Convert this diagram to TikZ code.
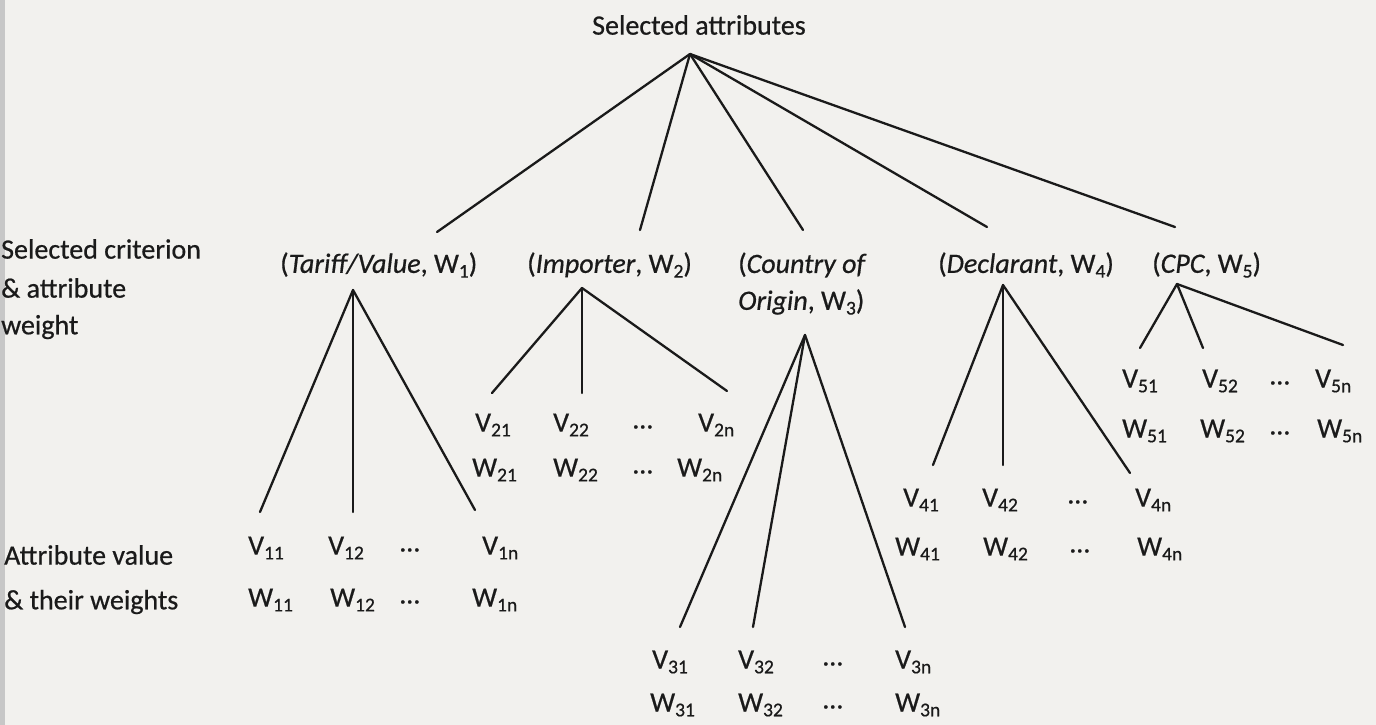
\documentclass[tikz,border=0pt]{standalone}
\usepackage{fontspec}
\setmainfont{Carlito}[FakeBold=0.6]
\definecolor{bg}{HTML}{F2F1EE}
\definecolor{ink}{HTML}{1A1A1A}
\newcommand\mysub[1]{\raisebox{-0.17em}{\fontsize{19.5}{19.5}\selectfont #1}}
\tikzset{
  lbl/.style={inner sep=0pt, anchor=west, text=ink},
  ln/.style={draw=ink, line width=2.3pt, line cap=round}
}
\begin{document}
\begin{tikzpicture}[x=1pt,y=-1pt,font=\fontsize{28}{39}\selectfont]
\path[use as bounding box, fill=bg] (0,0) rectangle (1376,725);
\clip (0,0) rectangle (1376,725);
\fill[black!22] (0,0) rectangle (5,725);

% titles and labels
\node[lbl] (title) at (592,25) {Selected attributes};
\node[lbl] (lc1) at (1,249) {Selected criterion};
\node[lbl] (lc2) at (1,288) {\& attribute};
\node[lbl] (lc3) at (1,327) {weight};
\node[lbl] (la1) at (4,555) {Attribute value};
\node[lbl] (la2) at (4,602) {\& their weights};

% criteria
\node[lbl] (c1) at (280,265) {(\textit{Tariff/Value}, W\mysub{1})};
\node[lbl] (c2) at (527,265) {(\textit{Importer}, W\mysub{2})};
\node[lbl] (c3a) at (738,265) {(\textit{Country of}};
\node[lbl] (c3b) at (738,302) {\textit{Origin}, W\mysub{3})};
\node[lbl] (c4) at (938,265) {(\textit{Declarant}, W\mysub{4})};
\node[lbl] (c5) at (1152,265) {(\textit{CPC}, W\mysub{5})};

% top connectors
\coordinate (A) at (690,54);
\coordinate (t1) at (437,232);
\coordinate (t2) at (640,230);
\coordinate (t3) at (803,230);
\coordinate (t4) at (987,227);
\coordinate (t5) at (1175,227);
\draw[ln] (A) -- (t1);
\draw[ln] (A) -- (t2);
\draw[ln] (A) -- (t3);
\draw[ln] (A) -- (t4);
\draw[ln] (A) -- (t5);

% Tariff subtree
\coordinate (s1) at (353,290);
\coordinate (e11) at (260,512);
\coordinate (e12) at (353,512);
\coordinate (e13) at (475,510);
\draw[ln] (s1) -- (e11);
\draw[ln] (s1) -- (e12);
\draw[ln] (s1) -- (e13);
\node[lbl] (v11) at (248,548) {V\mysub{11}};
\node[lbl] (v12) at (328,548) {V\mysub{12}};
\node[lbl] (v1d) at (400,550) {…};
\node[lbl] (v1n) at (482,548) {V\mysub{1n}};
\node[lbl] (w11) at (248,600) {W\mysub{11}};
\node[lbl] (w12) at (330,600) {W\mysub{12}};
\node[lbl] (w1d) at (400,602) {…};
\node[lbl] (w1n) at (472,600) {W\mysub{1n}};

% Importer subtree
\coordinate (s2) at (582,288);
\coordinate (e21) at (492,393);
\coordinate (e22) at (582,393);
\coordinate (e23) at (727,391);
\draw[ln] (s2) -- (e21);
\draw[ln] (s2) -- (e22);
\draw[ln] (s2) -- (e23);
\node[lbl] (v21) at (475,425) {V\mysub{21}};
\node[lbl] (v22) at (553,425) {V\mysub{22}};
\node[lbl] (v2d) at (633,427) {…};
\node[lbl] (v2n) at (698,425) {V\mysub{2n}};
\node[lbl] (w21) at (472,470) {W\mysub{21}};
\node[lbl] (w22) at (553,470) {W\mysub{22}};
\node[lbl] (w2d) at (633,472) {…};
\node[lbl] (w2n) at (677,470) {W\mysub{2n}};

% Country subtree
\coordinate (s3) at (805,335);
\coordinate (e31) at (680,627);
\coordinate (e32) at (753,627);
\coordinate (e33) at (905,627);
\draw[ln] (s3) -- (e31);
\draw[ln] (s3) -- (e32);
\draw[ln] (s3) -- (e33);
\node[lbl] (v31) at (652,662) {V\mysub{31}};
\node[lbl] (v32) at (738,662) {V\mysub{32}};
\node[lbl] (v3d) at (823,664) {…};
\node[lbl] (v3n) at (895,662) {V\mysub{3n}};
\node[lbl] (w31) at (650,705) {W\mysub{31}};
\node[lbl] (w32) at (738,705) {W\mysub{32}};
\node[lbl] (w3d) at (823,707) {…};
\node[lbl] (w3n) at (895,705) {W\mysub{3n}};

% Declarant subtree
\coordinate (s4) at (1003,285);
\coordinate (e41) at (933,465);
\coordinate (e42) at (1003,465);
\coordinate (e43) at (1130,473);
\draw[ln] (s4) -- (e41);
\draw[ln] (s4) -- (e42);
\draw[ln] (s4) -- (e43);
\node[lbl] (v41) at (903,500) {V\mysub{41}};
\node[lbl] (v42) at (982,500) {V\mysub{42}};
\node[lbl] (v4d) at (1068,502) {…};
\node[lbl] (v4n) at (1135,500) {V\mysub{4n}};
\node[lbl] (w41) at (895,549) {W\mysub{41}};
\node[lbl] (w42) at (983,549) {W\mysub{42}};
\node[lbl] (w4d) at (1070,551) {…};
\node[lbl] (w4n) at (1137,549) {W\mysub{4n}};

% CPC subtree
\coordinate (s5) at (1177,284);
\coordinate (e51) at (1140,348);
\coordinate (e52) at (1203,348);
\coordinate (e53) at (1343,345);
\draw[ln] (s5) -- (e51);
\draw[ln] (s5) -- (e52);
\draw[ln] (s5) -- (e53);
\node[lbl] (v51) at (1122,381) {V\mysub{51}};
\node[lbl] (v52) at (1202,381) {V\mysub{52}};
\node[lbl] (v5d) at (1270,383) {…};
\node[lbl] (v5n) at (1315,381) {V\mysub{5n}};
\node[lbl] (w51) at (1122,431) {W\mysub{51}};
\node[lbl] (w52) at (1200,431) {W\mysub{52}};
\node[lbl] (w5d) at (1270,433) {…};
\node[lbl] (w5n) at (1317,431) {W\mysub{5n}};
\end{tikzpicture}
\end{document}
